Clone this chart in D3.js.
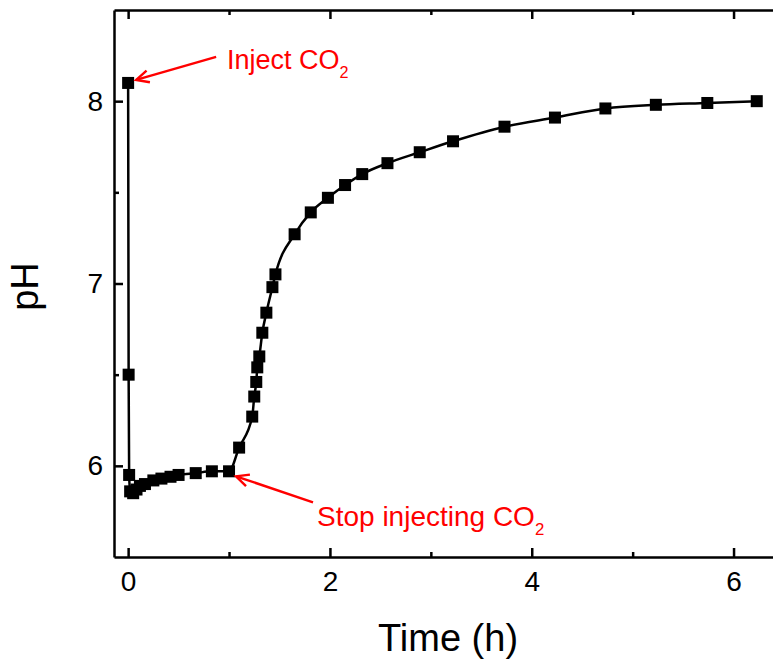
<!DOCTYPE html>
<html>
<head>
<meta charset="utf-8">
<script src="https://cdn.jsdelivr.net/npm/d3@7"></script>
<style>
  html, body { margin: 0; padding: 0; background: #fff; }
  svg { display: block; font-family: "Liberation Sans", Arial, sans-serif; }
</style>
</head>
<body>
<svg id="chart" width="773" height="664"></svg>
<script>
// pH of the solution over time (hours)
const timeH = [0, 0.005, 0.01, 0.02, 0.05, 0.083, 0.117, 0.167, 0.25, 0.33, 0.42, 0.5, 0.67, 0.83, 1.0,
  1.1, 1.23, 1.25, 1.27, 1.28, 1.3, 1.33, 1.37, 1.43, 1.46,
  1.65, 1.81, 1.98, 2.15, 2.32, 2.57, 2.89, 3.22, 3.73, 4.23, 4.73, 5.23, 5.74, 6.23];
const pH = [8.1, 6.5, 5.95, 5.86, 5.85, 5.87, 5.89, 5.9, 5.92, 5.93, 5.94, 5.95, 5.96, 5.97, 5.97,
  6.1, 6.27, 6.38, 6.46, 6.54, 6.6, 6.73, 6.84, 6.98, 7.05,
  7.27, 7.39, 7.47, 7.54, 7.6, 7.66, 7.72, 7.78, 7.86, 7.91, 7.96, 7.98, 7.99, 8.0];

const xMajorTicks = [0, 2, 4, 6];
const xMinorTicks = [1, 3, 5];
const yMajorTicks = [6, 7, 8];
const yMinorTicks = [6.5, 7.5];

const svg = d3.select("#chart");
const plotLeft = 114, plotTop = 10, plotRight = 784, plotBottom = 557;

const x = d3.scaleLinear().domain([-0.14, 6.5]).range([plotLeft, plotRight]);
const y = d3.scaleLinear().domain([5.5, 8.5]).range([plotBottom, plotTop]);

const axisStroke = 2.5;

function styleAxis(g) {
  g.selectAll(".domain").attr("stroke", "#000").attr("stroke-width", axisStroke);
  g.selectAll(".tick line").attr("stroke", "#000").attr("stroke-width", axisStroke);
  g.selectAll(".tick text").attr("fill", "#000").attr("font-size", 28)
    .attr("font-family", "Liberation Sans, Arial, sans-serif");
}

// bottom axis (ticks pointing inward)
svg.append("g").attr("transform", `translate(0,${plotBottom})`)
  .call(d3.axisBottom(x).tickValues(xMajorTicks).tickSizeInner(-9).tickSizeOuter(0).tickPadding(14).tickFormat(d3.format("d")))
  .call(styleAxis);
svg.append("g").attr("transform", `translate(0,${plotBottom})`)
  .call(d3.axisBottom(x).tickValues(xMinorTicks).tickSizeInner(-5).tickSizeOuter(0).tickFormat(""))
  .call(styleAxis).select(".domain").remove();

// top axis, mirrored ticks, no labels
svg.append("g").attr("transform", `translate(0,${plotTop})`)
  .call(d3.axisTop(x).tickValues(xMajorTicks).tickSizeInner(-9).tickSizeOuter(0).tickFormat(""))
  .call(styleAxis);
svg.append("g").attr("transform", `translate(0,${plotTop})`)
  .call(d3.axisTop(x).tickValues(xMinorTicks).tickSizeInner(-5).tickSizeOuter(0).tickFormat(""))
  .call(styleAxis).select(".domain").remove();

// left axis
svg.append("g").attr("transform", `translate(${plotLeft},0)`)
  .call(d3.axisLeft(y).tickValues(yMajorTicks).tickSizeInner(-9).tickSizeOuter(0).tickPadding(11).tickFormat(d3.format("d")))
  .call(styleAxis);
svg.append("g").attr("transform", `translate(${plotLeft},0)`)
  .call(d3.axisLeft(y).tickValues(yMinorTicks).tickSizeInner(-5).tickSizeOuter(0).tickFormat(""))
  .call(styleAxis).select(".domain").remove();

// axis titles
svg.append("text")
  .attr("x", (x(0) + x(6.5)) / 2 - 8).attr("y", 651)
  .attr("text-anchor", "middle").attr("font-size", 38).attr("fill", "#000")
  .text("Time (h)");
svg.append("text")
  .attr("transform", `translate(38,${(plotTop + plotBottom) / 2 + 3}) rotate(-90)`)
  .attr("text-anchor", "middle").attr("font-size", 38).attr("fill", "#000")
  .text("pH");

// data
const points = timeH.map((t, i) => ({ t, v: pH[i] }));

svg.append("path")
  .datum(points)
  .attr("fill", "none").attr("stroke", "#000").attr("stroke-width", 2.5)
  .attr("d", d3.line().x(d => x(d.t)).y(d => y(d.v)).curve(d3.curveMonotoneX));

const sq = 12;
svg.append("g").selectAll("rect")
  .data(points).join("rect")
  .attr("x", d => x(d.t) - sq / 2).attr("y", d => y(d.v) - sq / 2)
  .attr("width", sq).attr("height", sq).attr("fill", "#000");

// annotations
const red = "#ff0000";
function arrow(x1, y1, x2, y2) {
  const g = svg.append("g").attr("stroke", red).attr("stroke-width", 2.4).attr("fill", "none");
  g.append("line").attr("x1", x1).attr("y1", y1).attr("x2", x2).attr("y2", y2);
  const a = Math.atan2(y1 - y2, x1 - x2), len = 14, spread = 0.45;
  g.append("path")
    .attr("d", `M${x2 + len * Math.cos(a + spread)},${y2 + len * Math.sin(a + spread)} L${x2},${y2} L${x2 + len * Math.cos(a - spread)},${y2 + len * Math.sin(a - spread)}`);
}

function label(tx, ty, main, size) {
  const t = svg.append("text").attr("x", tx).attr("y", ty)
    .attr("font-size", size).attr("fill", red);
  t.append("tspan").text(main);
  t.append("tspan").attr("font-size", size * 0.6).attr("dy", 9).text("2");
}

const injX = x(timeH[0]), injY = y(pH[0]);
arrow(injX + 88, injY - 26, injX + 8, injY - 3);
label(227, 69, "Inject CO", 27);

const stopX = x(1.0), stopY = y(5.97);
arrow(stopX + 84, stopY + 31, stopX + 7, stopY + 5);
label(317, 526, "Stop injecting CO", 28);
</script>
</body>
</html>
